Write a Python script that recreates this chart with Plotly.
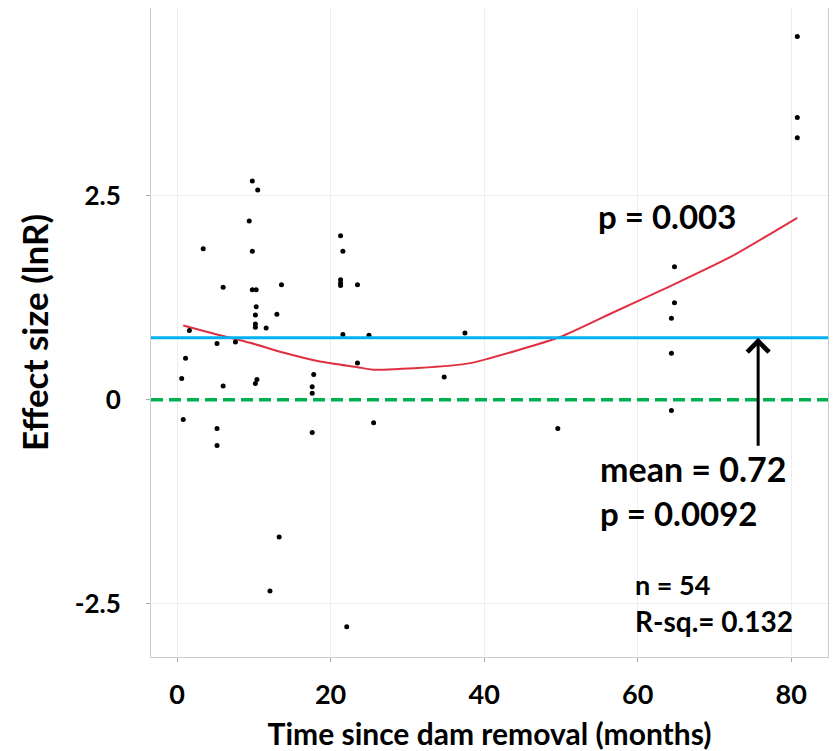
import plotly.graph_objects as go

# observations: time since dam removal (months) vs effect size (lnR)
months = [9.8, 10.5, 9.4, 3.4, 9.8, 21.3, 21.6, 6.0, 9.8, 10.3,
          13.6, 21.3, 21.3, 21.3, 23.5, 10.3, 10.2, 13.0, 10.2, 10.2,
          11.6, 1.6, 21.6, 25.0, 5.2, 7.6, 1.1, 23.5, 17.8, 0.6,
          6.0, 10.4, 10.2, 17.6, 17.6, 0.8, 5.2, 5.2, 17.6, 25.6,
          13.3, 12.1, 22.1, 37.5, 34.8, 49.6, 64.4, 64.4, 64.4, 64.8,
          64.8, 80.8, 80.8, 80.8]
effect = [2.68, 2.57, 2.19, 1.85, 1.82, 2.01, 1.82, 1.38, 1.35, 1.35,
          1.41, 1.47, 1.43, 1.40, 1.41, 1.14, 1.04, 1.05, 0.93, 0.89,
          0.88, 0.85, 0.80, 0.79, 0.69, 0.71, 0.51, 0.45, 0.31, 0.26,
          0.17, 0.25, 0.20, 0.16, 0.08, -0.24, -0.35, -0.56, -0.40, -0.28,
          -1.68, -2.34, -2.78, 0.82, 0.28, -0.35, -0.13, 0.57, 1.00, 1.19,
          1.63, 4.45, 3.46, 3.21]

# smoothed trend
smooth_x = [0.8, 5.2, 9.5, 13.8, 18.6, 23.5, 25.5, 31.4, 38.2, 49.9, 56.8, 64.2, 72.1, 80.8]
smooth_y = [0.91, 0.80, 0.70, 0.58, 0.47, 0.40, 0.37, 0.39, 0.45, 0.77, 1.07, 1.39, 1.75, 2.23]

mean_effect = 0.76
arrow_x = 75.7
arrow_tail = -0.58

font = "Lato"

fig = go.Figure()
fig.add_trace(go.Scatter(x=smooth_x, y=smooth_y, mode="lines",
                         line=dict(color="#e03040", width=2, shape="spline", smoothing=0.5),
                         hoverinfo="skip"))
fig.add_trace(go.Scatter(x=months, y=effect, mode="markers",
                         marker=dict(color="black", size=5)))

# zero line and mean line across whole panel
fig.add_shape(type="line", xref="paper", x0=0, x1=1, y0=0, y1=0,
              line=dict(color="#00b050", width=3.5, dash="12px,6px"))
fig.add_shape(type="line", xref="paper", x0=0, x1=1, y0=mean_effect, y1=mean_effect,
              line=dict(color="#00b0f0", width=3))

fig.add_annotation(x=arrow_x, y=mean_effect, ax=arrow_x, ay=arrow_tail,
                   xref="x", yref="y", axref="x", ayref="y", text="",
                   showarrow=True, arrowhead=4, arrowsize=1.4, arrowwidth=3,
                   arrowcolor="black")

notes = [
    (54.6, 2.25, "p = 0.003", 33),
    (54.8, -0.84, "mean = 0.72", 34),
    (54.8, -1.39, "p = 0.0092", 33),
    (59.4, -2.26, "n = 54", 27),
    (59.4, -2.71, "R-sq.= 0.132", 28),
]
for x, y, t, s in notes:
    fig.add_annotation(x=x, y=y, text="<b>" + t + "</b>", showarrow=False,
                       xanchor="left", yanchor="middle",
                       font=dict(family=font, size=s, color="black"))

# page has an 8px body margin, so the figure is drawn 8px in from top-left
fig.update_layout(
    width=830, height=743,
    margin=dict(l=143, r=10, t=0, b=94),
    plot_bgcolor="white", paper_bgcolor="white",
    showlegend=False,
    font=dict(family=font, color="black"),
)
fig.update_xaxes(range=[-3.4, 84.8], tickvals=[0, 20, 40, 60, 80],
                 automargin=False,
                 showgrid=True, gridcolor="#eeeeee", gridwidth=1,
                 showline=True, linecolor="#cccccc", linewidth=1, mirror=True,
                 ticks="outside", ticklen=4, tickcolor="#aaaaaa",
                 ticklabelstandoff=10,
                 zeroline=False, tickfont=dict(size=27, family=font, weight="bold"),
                 title=dict(text="<b>Time since dam removal (months)</b>",
                            font=dict(size=30, family=font)))
fig.update_yaxes(range=[-3.15, 4.8], tickvals=[-2.5, 0, 2.5],
                 ticktext=["-2.5", "0", "2.5"],
                 automargin=False,
                 showgrid=True, gridcolor="#eeeeee", gridwidth=1,
                 showline=True, linecolor="#cccccc", linewidth=1, mirror=True,
                 ticks="outside", ticklen=4, tickcolor="#aaaaaa",
                 ticklabelstandoff=20,
                 zeroline=False, tickfont=dict(size=26, family=font, weight="bold"),
                 title=dict(text="<b>Effect size (lnR)</b>",
                            font=dict(size=35, family=font)))

fig.write_html("out.html")
